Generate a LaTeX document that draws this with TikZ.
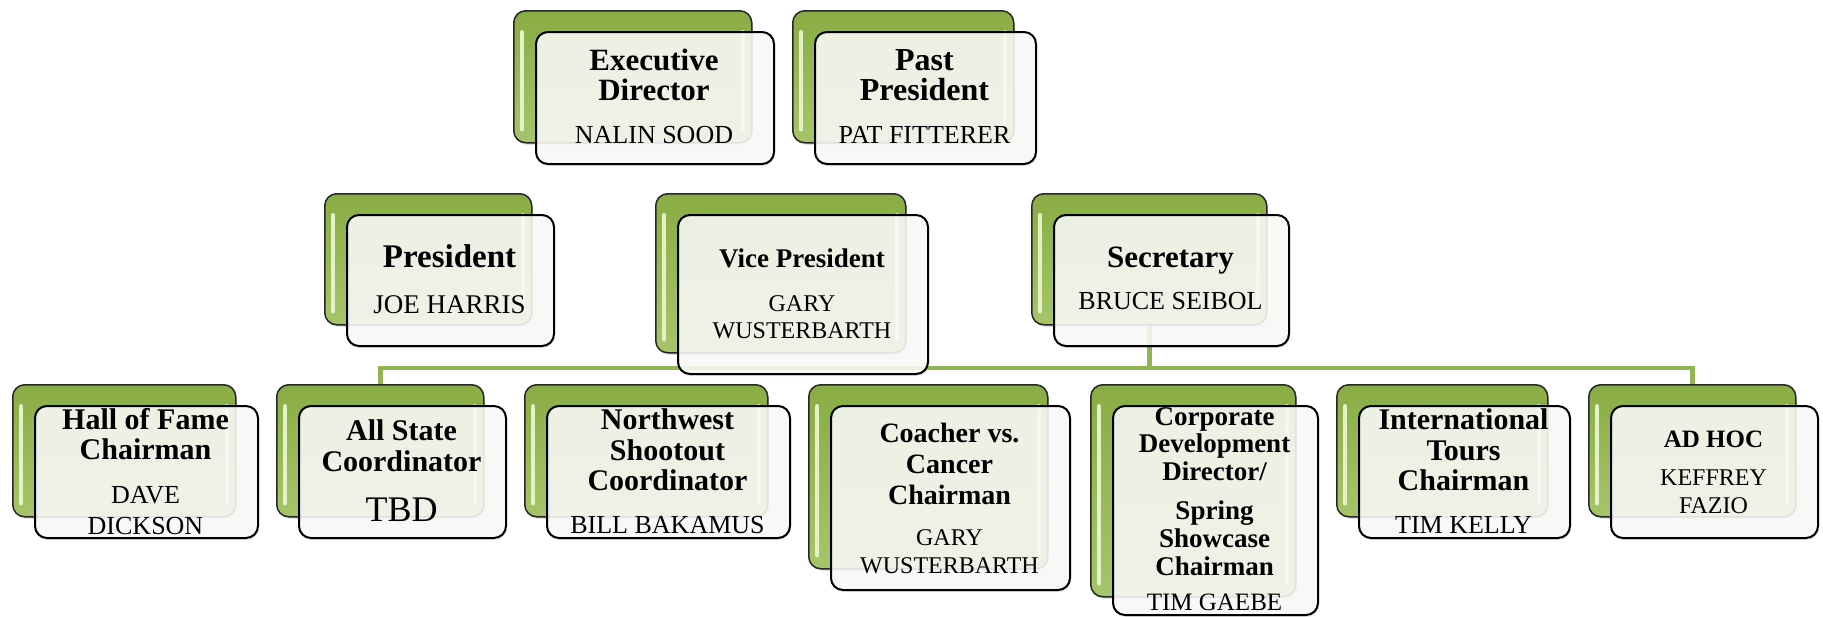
\documentclass[tikz,border=0pt]{standalone}
\usepackage{fontspec}
\setmainfont{Liberation Serif}
\usetikzlibrary{shadows,calc}
\definecolor{gtop}{HTML}{89AC44}
\definecolor{gbot}{HTML}{A6C56B}
\definecolor{ghl}{HTML}{E4F1C4}
\definecolor{gline}{HTML}{92B554}
\definecolor{frontfill}{HTML}{FBFCF9}
\tikzset{
  backbox/.style={draw=black!85, line width=1.5pt, rounded corners=12pt,
    top color=gtop, bottom color=gbot, inner sep=0pt,
    drop shadow={shadow xshift=1pt, shadow yshift=-2pt, opacity=0.25}},
  frontbox/.style={draw=black, line width=2pt, rounded corners=12pt,
    fill=frontfill, fill opacity=0.87, inner sep=0pt,
    drop shadow={shadow xshift=1pt, shadow yshift=-2pt, opacity=0.2}},
  hl/.style={draw=ghl, line width=4pt, line cap=round},
  conn/.style={draw=gline, line width=4.5pt},
  ttl/.style={anchor=base, inner sep=0pt, font=\fontsize{#1}{#1}\selectfont\bfseries},
  ttl/.default=30,
  nm/.style={anchor=base, inner sep=0pt, font=\fontsize{#1}{#1}\selectfont},
  nm/.default=26,
}
\newcommand\backcard[5]{%
  \node[backbox, minimum width=#4pt, minimum height=#5pt, anchor=north west] (#1B) at (#2,#3) {};
  \draw[hl] ([shift={(9,22)}]#1B.north west) -- ([shift={(9,-14)}]#1B.south west);
  \draw[hl] ([shift={(-10,22)}]#1B.north east) -- ([shift={(-10,-14)}]#1B.south east);
}
\newcommand\frontcard[3]{%
  \node[frontbox, minimum width=#2pt, minimum height=#3pt, anchor=north west] (#1F) at ([shift={(22,21)}]#1B.north west) {};
}
\begin{document}
\begin{tikzpicture}[x=1pt,y=-1pt]
\path[use as bounding box, fill=white] (0,0) rectangle (1823,616);

% back cards
\backcard{exec}{513}{10}{238}{132}
\backcard{past}{792}{10}{221}{132}
\backcard{pres}{324}{193}{207}{131}
\backcard{vp}{655}{193}{250}{159}
\backcard{sec}{1031}{193}{235}{131}
\backcard{hall}{12}{384}{223}{132}
\backcard{allst}{276}{384}{207}{132}
\backcard{nw}{524}{384}{243}{132}
\backcard{coach}{808}{384}{239}{184}
\backcard{corp}{1090}{384}{205}{212}
\backcard{intl}{1336}{384}{211}{132}
\backcard{adhoc}{1588}{384}{207}{132}

% connectors
\coordinate (barlevel) at (0,368);
\draw[conn] (allstB.north) -- (allstB.north |- barlevel) -- (adhocB.north |- barlevel) -- (adhocB.north);
\draw[conn] (secB.south) -- (secB.south |- barlevel);

% front cards
\frontcard{exec}{238}{132}
\frontcard{past}{221}{132}
\frontcard{pres}{207}{131}
\frontcard{vp}{250}{159}
\frontcard{sec}{235}{131}
\frontcard{hall}{223}{132}
\frontcard{allst}{207}{132}
\frontcard{nw}{243}{132}
\frontcard{coach}{239}{184}
\frontcard{corp}{205}{209}
\frontcard{intl}{211}{132}
\frontcard{adhoc}{207}{132}

% texts
\node[ttl=31] (execT1) at (654,70) {Executive};
\node[ttl=31] (execT2) at (654,100) {Director};
\node[nm] (execN1) at (654,143) {NALIN SOOD};

\node[ttl=32] (pastT1) at (924.5,70) {Past};
\node[ttl=32] (pastT2) at (924.5,100) {President};
\node[nm] (pastN1) at (924.5,143) {PAT FITTERER};

\node[ttl=33] (presT1) at (449.5,267) {President};
\node[nm=27] (presN1) at (449.5,313) {JOE HARRIS};

\node[ttl=27] (vpT1) at (802,267) {Vice President};
\node[nm=24] (vpN1) at (802,311) {GARY};
\node[nm=24] (vpN2) at (802,338) {WUSTERBARTH};

\node[ttl=31] (secT1) at (1170.5,267) {Secretary};
\node[nm] (secN1) at (1170.5,309) {BRUCE SEIBOL};

\node[ttl] (hallT1) at (145.5,429) {Hall of Fame};
\node[ttl] (hallT2) at (145.5,459) {Chairman};
\node[nm] (hallN1) at (145.5,503) {DAVE};
\node[nm] (hallN2) at (145.5,534) {DICKSON};

\node[ttl] (allstT1) at (401.5,440) {All State};
\node[ttl] (allstT2) at (401.5,471) {Coordinator};
\node[nm=36] (allstN1) at (401.5,521) {TBD};

\node[ttl] (nwT1) at (667.5,429) {Northwest};
\node[ttl] (nwT2) at (667.5,460) {Shootout};
\node[ttl] (nwT3) at (667.5,490) {Coordinator};
\node[nm] (nwN1) at (667.5,533) {BILL BAKAMUS};

\node[ttl=28] (coachT1) at (949.5,442) {Coacher vs.};
\node[ttl=28] (coachT2) at (949.5,473) {Cancer};
\node[ttl=28] (coachT3) at (949.5,504) {Chairman};
\node[nm=24] (coachN1) at (949.5,545) {GARY};
\node[nm=24] (coachN2) at (949.5,573) {WUSTERBARTH};

\node[ttl=27] (corpT1) at (1214.5,425) {Corporate};
\node[ttl=27] (corpT2) at (1214.5,452) {Development};
\node[ttl=27] (corpT3) at (1214.5,480) {Director/};
\node[ttl=27] (corpT4) at (1214.5,519) {Spring};
\node[ttl=27] (corpT5) at (1214.5,547) {Showcase};
\node[ttl=27] (corpT6) at (1214.5,575) {Chairman};
\node[nm=25] (corpN1) at (1214.5,610) {TIM GAEBE};

\node[ttl] (intlT1) at (1463.5,429) {International};
\node[ttl] (intlT2) at (1463.5,460) {Tours};
\node[ttl] (intlT3) at (1463.5,490) {Chairman};
\node[nm] (intlN1) at (1463.5,533) {TIM KELLY};

\node[ttl=25] (adhocT1) at (1713.5,447) {AD HOC};
\node[nm=24] (adhocN1) at (1713.5,485) {KEFFREY};
\node[nm=24] (adhocN2) at (1713.5,513) {FAZIO};
\end{tikzpicture}
\end{document}
